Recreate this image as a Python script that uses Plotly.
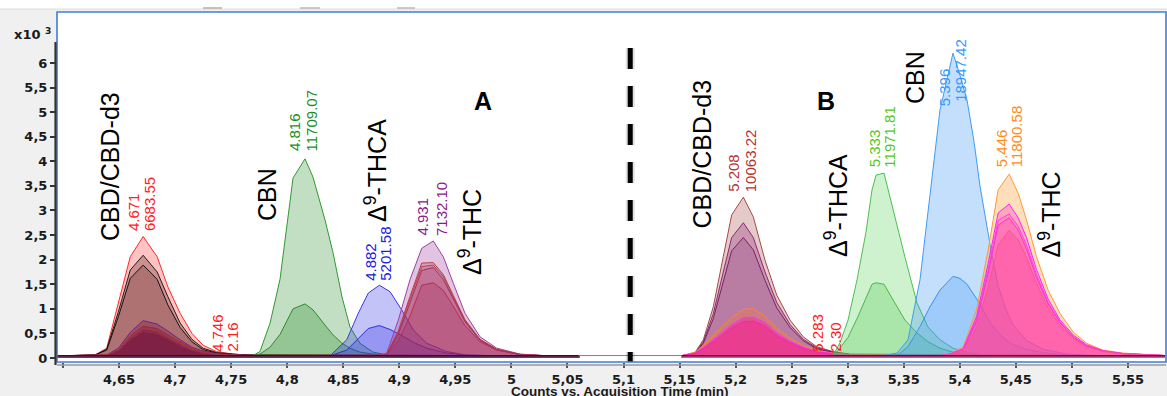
import plotly.graph_objects as go

# ---------------- data (x: minutes, y: counts x10^3) ----------------
A_START, A_END = 4.595, 5.06
B_START, B_END = 5.152, 5.583

# Panel A - CBD/CBD-d3
a_cbd_x = [4.595, 4.6285, 4.639, 4.6495, 4.660, 4.6715, 4.684, 4.6935, 4.7045, 4.715, 4.725, 4.737, 4.752, 4.764, 5.06]
a_cbd_red = [0.045, 0.06, 0.20, 1.13, 2.06, 2.47, 2.06, 1.45, 0.91, 0.50, 0.26, 0.13, 0.08, 0.06, 0.045]
a_cbd_blk1 = [0.045, 0.06, 0.18, 0.95, 1.79, 2.09, 1.75, 1.25, 0.71, 0.38, 0.20, 0.11, 0.08, 0.06, 0.045]
a_cbd_blk2 = [0.045, 0.06, 0.16, 0.85, 1.62, 1.89, 1.60, 1.08, 0.62, 0.33, 0.17, 0.10, 0.07, 0.06, 0.045]
a_cbd_pur = [0.045, 0.05, 0.06, 0.20, 0.52, 0.76, 0.69, 0.55, 0.37, 0.22, 0.14, 0.09, 0.07, 0.055, 0.045]
a_cbd_r1 = [0.045, 0.05, 0.06, 0.17, 0.45, 0.65, 0.60, 0.47, 0.32, 0.19, 0.12, 0.08, 0.06, 0.05, 0.045]
a_cbd_r2 = [0.045, 0.05, 0.06, 0.16, 0.42, 0.60, 0.55, 0.43, 0.29, 0.17, 0.11, 0.08, 0.06, 0.05, 0.045]
a_cbd_r3 = [0.045, 0.05, 0.06, 0.15, 0.38, 0.54, 0.50, 0.39, 0.26, 0.16, 0.10, 0.07, 0.06, 0.05, 0.045]

# Panel A - CBN
a_cbn_x = [4.595, 4.7695, 4.7757, 4.7847, 4.7936, 4.7998, 4.8052, 4.8159, 4.8230, 4.8337, 4.8409, 4.8489, 4.8560, 4.8649, 4.8765, 4.8917, 5.06]
a_cbn_outer = [0.045, 0.05, 0.13, 0.71, 1.60, 2.70, 3.66, 4.05, 3.68, 2.81, 2.14, 1.24, 0.63, 0.30, 0.12, 0.05, 0.045]
a_cbn_inner = [0.045, 0.05, 0.08, 0.22, 0.48, 0.75, 1.00, 1.10, 0.98, 0.67, 0.47, 0.30, 0.20, 0.12, 0.08, 0.05, 0.045]

# Panel A - THCA
a_thca_x = [4.595, 4.8382, 4.8531, 4.8634, 4.8723, 4.8822, 4.8917, 4.9021, 4.9125, 4.9244, 4.9423, 4.9601, 4.9869, 5.06]
a_thca_outer = [0.045, 0.045, 0.37, 0.91, 1.32, 1.48, 1.35, 0.98, 0.57, 0.30, 0.13, 0.06, 0.045, 0.045]
a_thca_inner = [0.045, 0.045, 0.16, 0.40, 0.60, 0.66, 0.58, 0.46, 0.32, 0.20, 0.10, 0.06, 0.045, 0.045]

# Panel A - THC
a_thc_x = [4.595, 4.8798, 4.8888, 4.8991, 4.9095, 4.9200, 4.9303, 4.9392, 4.9482, 4.9586, 4.9720, 4.9869, 5.0077, 5.0315, 5.0612]
a_thc_pur = [0.045, 0.045, 0.10, 0.77, 1.59, 2.23, 2.38, 2.06, 1.52, 0.91, 0.43, 0.20, 0.08, 0.045, 0.045]
a_thc_i1 = [0.045, 0.045, 0.08, 0.55, 1.25, 1.93, 1.94, 1.70, 1.27, 0.78, 0.38, 0.18, 0.075, 0.045, 0.045]
a_thc_i2 = [0.045, 0.045, 0.08, 0.52, 1.20, 1.86, 1.89, 1.66, 1.24, 0.76, 0.37, 0.17, 0.07, 0.045, 0.045]
a_thc_i3 = [0.045, 0.045, 0.07, 0.48, 1.12, 1.78, 1.84, 1.60, 1.20, 0.74, 0.36, 0.17, 0.07, 0.045, 0.045]
a_thc_i4 = [0.045, 0.045, 0.06, 0.35, 0.85, 1.48, 1.53, 1.38, 1.05, 0.66, 0.33, 0.16, 0.07, 0.045, 0.045]

# Panel B - CBD/CBD-d3
b_cbd_x = [5.1519, 5.1638, 5.1712, 5.1801, 5.1890, 5.1965, 5.2069, 5.2158, 5.2262, 5.2367, 5.2486, 5.2604, 5.2723, 5.2872, 5.3021, 5.583]
b_cbd_outer = [0.047, 0.11, 0.37, 1.04, 2.06, 2.91, 3.27, 2.87, 1.99, 1.28, 0.77, 0.43, 0.23, 0.13, 0.08, 0.045]
b_cbd_p1 = [0.047, 0.10, 0.33, 0.90, 1.75, 2.45, 2.75, 2.45, 1.75, 1.13, 0.68, 0.38, 0.21, 0.12, 0.07, 0.045]
b_cbd_p2 = [0.047, 0.09, 0.30, 0.80, 1.55, 2.18, 2.45, 2.20, 1.58, 1.02, 0.62, 0.35, 0.19, 0.11, 0.07, 0.045]
b_cbd_orange = [0.047, 0.12, 0.25, 0.45, 0.64, 0.82, 0.99, 1.00, 0.85, 0.60, 0.40, 0.25, 0.15, 0.10, 0.07, 0.045]
b_cbd_magenta = [0.047, 0.10, 0.21, 0.37, 0.53, 0.68, 0.82, 0.83, 0.72, 0.51, 0.34, 0.22, 0.13, 0.09, 0.06, 0.045]
b_cbd_pink = [0.047, 0.09, 0.19, 0.33, 0.48, 0.62, 0.74, 0.75, 0.65, 0.46, 0.31, 0.20, 0.12, 0.08, 0.06, 0.045]

# Panel B - THCA
b_thca_x = [5.152, 5.2869, 5.2931, 5.3003, 5.3083, 5.3163, 5.3217, 5.3253, 5.3324, 5.3405, 5.3511, 5.3618, 5.3716, 5.3823, 5.3939, 5.4091, 5.4296, 5.583]
b_thca_outer = [0.045, 0.045, 0.31, 0.77, 1.59, 2.56, 3.42, 3.72, 3.76, 3.00, 2.05, 1.12, 0.63, 0.37, 0.20, 0.10, 0.045, 0.045]
b_thca_inner = [0.045, 0.045, 0.20, 0.42, 0.80, 1.20, 1.50, 1.53, 1.50, 1.18, 0.77, 0.51, 0.33, 0.20, 0.12, 0.07, 0.045, 0.045]

# Panel B - CBN
b_cbn_x = [5.152, 5.3315, 5.3440, 5.3538, 5.3645, 5.3734, 5.3823, 5.3939, 5.4002, 5.4064, 5.4127, 5.4180, 5.4225, 5.4278, 5.4341, 5.4403, 5.4474, 5.4599, 5.4742, 5.4956, 5.5251, 5.583]
b_cbn_outer = [0.045, 0.047, 0.10, 0.37, 1.59, 3.32, 5.04, 6.20, 5.75, 5.25, 4.40, 3.50, 2.90, 2.20, 1.48, 1.04, 0.67, 0.35, 0.18, 0.08, 0.045, 0.045]
b_cbn_inner = [0.045, 0.047, 0.047, 0.23, 0.64, 1.04, 1.38, 1.66, 1.62, 1.50, 1.27, 1.10, 0.90, 0.70, 0.52, 0.38, 0.27, 0.17, 0.11, 0.06, 0.045, 0.045]

# Panel B - THC
b_thc_x = [5.152, 5.382, 5.3911, 5.4030, 5.4149, 5.4253, 5.4342, 5.4440, 5.4521, 5.4595, 5.4684, 5.4788, 5.4893, 5.5011, 5.5130, 5.5279, 5.5457, 5.583]
b_thc_orange = [0.045, 0.045, 0.08, 0.23, 0.98, 2.20, 3.42, 3.74, 3.35, 2.81, 2.06, 1.38, 0.91, 0.53, 0.30, 0.16, 0.10, 0.05]
b_thc_m1 = [0.045, 0.045, 0.08, 0.19, 0.84, 1.92, 2.95, 3.13, 2.85, 2.45, 1.80, 1.20, 0.78, 0.47, 0.27, 0.15, 0.09, 0.05]
b_thc_m2 = [0.045, 0.045, 0.08, 0.18, 0.78, 1.80, 2.80, 2.93, 2.68, 2.30, 1.70, 1.13, 0.74, 0.44, 0.25, 0.14, 0.09, 0.05]
b_thc_m3 = [0.045, 0.045, 0.08, 0.17, 0.74, 1.72, 2.70, 2.85, 2.60, 2.22, 1.64, 1.10, 0.72, 0.43, 0.25, 0.14, 0.09, 0.05]
b_thc_p4 = [0.045, 0.045, 0.07, 0.15, 0.62, 1.45, 2.30, 2.60, 2.40, 2.05, 1.52, 1.02, 0.67, 0.40, 0.23, 0.13, 0.08, 0.05]

# baselines
base_a_x = [A_START, A_END]
base_a_y = [0.045, 0.045]
base_b_x = [B_START, B_END]
base_b_y = [0.045, 0.045]
base_all_x = [4.5947, 5.5839]
base_all_y = [0.05, 0.05]

# peak labels
peak_rt = ["4.671", "4.746", "4.816", "4.882", "4.931", "5.208", "5.283", "5.333", "5.396", "5.446"]
peak_area = ["6683.55", "2.16", "11709.07", "5201.58", "7132.10", "10063.22", "2.30", "11971.81", "18947.42", "11800.58"]

# tick labels
x_ticks = [4.65, 4.70, 4.75, 4.80, 4.85, 4.90, 4.95, 5.00, 5.05, 5.10, 5.15, 5.20, 5.25, 5.30, 5.35, 5.40, 5.45, 5.50, 5.55]
x_ticktext = ["4,65", "4,7", "4,75", "4,8", "4,85", "4,9", "4,95", "5", "5,05", "5,1", "5,15", "5,2", "5,25", "5,3", "5,35", "5,4", "5,45", "5,5", "5,55"]
x_unlabelled_ticks = [4.60]
y_ticks = [0, 0.5, 1, 1.5, 2, 2.5, 3, 3.5, 4, 4.5, 5, 5.5, 6]
y_ticktext = ["0", "0,5", "1", "1,5", "2", "2,5", "3", "3,5", "4", "4,5", "5", "5,5", "6"]

DIVIDER_X = 5.106

# ---------------- figure ----------------
fig = go.Figure()


def peak(x, y, line, fill, width=1.0):
    fig.add_trace(go.Scatter(x=x, y=y, mode="lines", fill="tozeroy",
                             line=dict(color=line, width=width),
                             fillcolor=fill, hoverinfo="skip"))


# Panel A
peak(a_cbd_x, a_cbd_red, "#ff2a2a", "rgba(255,40,40,0.28)")
peak(a_cbd_x, a_cbd_blk1, "#2a1a1a", "rgba(110,50,50,0.35)")
peak(a_cbd_x, a_cbd_blk2, "#1a1010", "rgba(120,60,60,0.35)")
peak(a_cbd_x, a_cbd_pur, "#7a2080", "rgba(110,20,90,0.35)")
peak(a_cbd_x, a_cbd_r1, "#a02a40", "rgba(120,10,40,0.30)")
peak(a_cbd_x, a_cbd_r2, "#b03a3a", "rgba(120,10,50,0.30)")
peak(a_cbd_x, a_cbd_r3, "#9a2a4a", "rgba(110,10,60,0.30)")

peak(a_cbn_x, a_cbn_outer, "#2f9a2f", "rgba(40,140,40,0.28)")
peak(a_cbn_x, a_cbn_inner, "#2f8a2f", "rgba(40,140,40,0.30)")

peak(a_thca_x, a_thca_outer, "#3a3ae0", "rgba(40,40,230,0.28)")
peak(a_thca_x, a_thca_inner, "#3030d0", "rgba(40,40,230,0.28)")

peak(a_thc_x, a_thc_pur, "#a040a0", "rgba(160,60,160,0.30)")
peak(a_thc_x, a_thc_i1, "#b04050", "rgba(170,40,80,0.22)")
peak(a_thc_x, a_thc_i2, "#c04040", "rgba(170,40,80,0.20)")
peak(a_thc_x, a_thc_i3, "#a03060", "rgba(160,30,80,0.20)")
peak(a_thc_x, a_thc_i4, "#b03050", "rgba(160,30,80,0.25)")

# Panel B
peak(b_cbd_x, b_cbd_outer, "#a84848", "rgba(170,80,80,0.30)")
peak(b_cbd_x, b_cbd_p1, "#8a2a70", "rgba(150,60,130,0.35)")
peak(b_cbd_x, b_cbd_p2, "#7a2060", "rgba(150,60,130,0.30)")
peak(b_cbd_x, b_cbd_orange, "#ff8a20", "rgba(255,120,60,0.30)")
peak(b_cbd_x, b_cbd_magenta, "#ff30ff", "rgba(255,0,170,0.30)")
peak(b_cbd_x, b_cbd_pink, "#ff20b0", "rgba(255,20,150,0.35)")

peak(b_thca_x, b_thca_outer, "#4cc04c", "rgba(80,210,80,0.28)")
peak(b_thca_x, b_thca_inner, "#44b844", "rgba(80,200,80,0.28)")

peak(b_cbn_x, b_cbn_outer, "#3d9cf5", "rgba(60,150,245,0.30)")
peak(b_cbn_x, b_cbn_inner, "#3a90f0", "rgba(60,150,245,0.28)")

peak(b_thc_x, b_thc_orange, "#ff9a3a", "rgba(255,160,60,0.35)")
peak(b_thc_x, b_thc_m1, "#ff20ff", "rgba(255,40,200,0.30)")
peak(b_thc_x, b_thc_m2, "#ff40e0", "rgba(255,60,180,0.25)")
peak(b_thc_x, b_thc_m3, "#ff30d0", "rgba(255,60,170,0.25)")
peak(b_thc_x, b_thc_p4, "#ff5090", "rgba(255,60,150,0.30)")

# baselines
for bx, by, col, w in [(base_all_x, base_all_y, "#a07a6a", 1.0),
                       (base_a_x, base_a_y, "#1a1840", 1.6),
                       (base_b_x, base_b_y, "#5a1030", 1.6)]:
    fig.add_trace(go.Scatter(x=bx, y=by, mode="lines", line=dict(color=col, width=w), hoverinfo="skip"))

# ---------------- annotations ----------------
ann = []
lab_x_rt = [4.6624, 4.7378, 4.8070, 4.8748, 4.9207, 5.1986, 5.2731, 5.3235, 5.3859, 5.4367]
lab_x_ar = [4.6767, 4.7512, 4.8221, 4.8881, 4.9372, 5.2128, 5.2896, 5.3377, 5.4011, 5.4506]
lab_y_rt = [2.56, 0.11, 4.19, 1.55, 2.46, 3.36, 0.10, 3.86, 5.10, 3.86]
lab_y_ar = [2.56, 0.11, 4.19, 1.55, 2.46, 3.36, 0.10, 3.86, 5.18, 3.86]
lab_col = ["#ff2020", "#ff2020", "#1a901a", "#2020e0", "#8b1a8b", "#b5352f", "#ff1a1a", "#55c822", "#3399ff", "#ff8c1a"]
for i in range(len(peak_rt)):
    for txt, xx, yy in [(peak_rt[i], lab_x_rt[i], lab_y_rt[i]), (peak_area[i], lab_x_ar[i], lab_y_ar[i])]:
        ann.append(dict(x=xx, y=yy, xref="x", yref="y", text=txt, showarrow=False, textangle=-90,
                        xanchor="center", yanchor="bottom", borderpad=0,
                        font=dict(family="Liberation Sans, Arial", size=15, color=lab_col[i])))

big = [("CBD/CBD-d3", 4.6419, 3.905), ("CBN", 4.7820, 3.315), ("Δ<sup>9</sup>-THCA", 4.8792, 3.823),
       ("Δ<sup>9</sup>-THC", 4.9631, 2.563), ("CBD/CBD-d3", 5.1700, 4.159), ("Δ<sup>9</sup>-THCA", 5.2896, 3.091),
       ("CBN", 5.3600, 5.715), ("Δ<sup>9</sup>-THC", 5.4796, 2.918)]
for txt, xx, yy in big:
    ann.append(dict(x=xx, y=yy, xref="x", yref="y", text=txt, showarrow=False, textangle=-90,
                    xanchor="center", yanchor="middle",
                    font=dict(family="Liberation Sans, Arial", size=25, color="black")))
for txt, xx, yy in [("A", 4.9747, 5.227), ("B", 5.2806, 5.227)]:
    ann.append(dict(x=xx, y=yy, xref="x", yref="y", text=txt, showarrow=False,
                    xanchor="center", yanchor="middle",
                    font=dict(family="Liberation Sans, Arial", size=25, color="black", weight="bold")))

ann.append(dict(x=-45 / 1109, y=(362 - 34) / 350, xref="paper", yref="paper", text="x10 <sup>3</sup>",
                showarrow=False, xanchor="left", yanchor="middle",
                font=dict(family="DejaVu Sans", size=13, color="#1a1a1a", weight="bold")))
ann.append(dict(x=(620 - 57) / 1109, y=(362 - 392) / 350, xref="paper", yref="paper",
                text="Counts vs. Acquisition Time (min)", showarrow=False, xanchor="center", yanchor="middle",
                font=dict(family="Liberation Sans, Arial", size=13.5, color="#1a1a1a", weight="bold")))

# ---------------- shapes ----------------
shapes = [
    dict(type="rect", xref="paper", yref="paper", x0=-57 / 1109, x1=1 + 1 / 1109, y0=1 + 3 / 350, y1=1 + 12 / 350,
         fillcolor="white", line=dict(width=0), layer="below"),
    dict(type="line", xref="paper", yref="paper", x0=-57 / 1109, x1=1 + 1 / 1109, y0=1 + 3 / 350, y1=1 + 3 / 350,
         line=dict(color="#dcdcdc", width=1)),
    dict(type="line", xref="paper", yref="paper", x0=(203 - 57) / 1109, x1=(222 - 57) / 1109,
         y0=1 + 4 / 350, y1=1 + 4 / 350, line=dict(color="#b8aca0", width=1.5)),
    dict(type="line", xref="paper", yref="paper", x0=(300 - 57) / 1109, x1=(320 - 57) / 1109,
         y0=1 + 4 / 350, y1=1 + 4 / 350, line=dict(color="#b8b8b8", width=1.5)),
    dict(type="line", xref="paper", yref="paper", x0=(397 - 57) / 1109, x1=(415 - 57) / 1109,
         y0=1 + 4 / 350, y1=1 + 4 / 350, line=dict(color="#b8b8b8", width=1.5)),
    dict(type="line", xref="x", yref="y", x0=DIVIDER_X, x1=DIVIDER_X, y0=6.305, y1=-0.08,
         line=dict(color="rgba(0,0,0,0.12)", width=9, dash="21px,17px")),
    dict(type="line", xref="x", yref="y", x0=DIVIDER_X, x1=DIVIDER_X, y0=6.305, y1=-0.08,
         line=dict(color="black", width=5, dash="21px,17px")),
    dict(type="rect", xref="paper", yref="paper", x0=0, x1=1, y0=0, y1=1,
         line=dict(color="#3f7fd6", width=1.6), layer="above"),
    dict(type="line", xref="paper", yref="paper", x0=0, x1=1, y0=-3 / 350, y1=-3 / 350,
         line=dict(color="#9a9a9a", width=1.5)),
    dict(type="line", xref="paper", yref="paper", x0=-1.5 / 1109, x1=-1.5 / 1109, y0=-3 / 350, y1=(362 - 42) / 350,
         line=dict(color="#333333", width=2.2)),
]

tickfont = dict(family="DejaVu Sans", size=13, color="#1a1a1a", weight="bold")
fig.update_layout(
    width=1167, height=396,
    margin=dict(l=57, r=1, t=12, b=34),
    paper_bgcolor="#f0f0f0", plot_bgcolor="white",
    showlegend=False,
    annotations=ann, shapes=shapes,
    xaxis=dict(range=[4.59465, 5.58394], tickvals=x_ticks, ticktext=x_ticktext, ticks="outside",
               ticklen=5, tickwidth=1.5, tickcolor="#555555", showgrid=False, zeroline=False,
               showline=False, tickfont=tickfont,
               minor=dict(tickvals=x_unlabelled_ticks, ticks="outside", ticklen=5, tickwidth=1.5,
                          tickcolor="#555555", showgrid=False)),
    yaxis=dict(range=[-0.0813, 7.0368], tickvals=y_ticks, ticktext=y_ticktext, ticks="outside",
               ticklen=6, tickwidth=1.5, tickcolor="#333333", showgrid=False, zeroline=False,
               showline=False, tickfont=tickfont),
)

fig.write_html("out.html", config={"displayModeBar": False},
               post_script="document.body.style.margin='0px';document.body.style.background='#f0f0f0';")
